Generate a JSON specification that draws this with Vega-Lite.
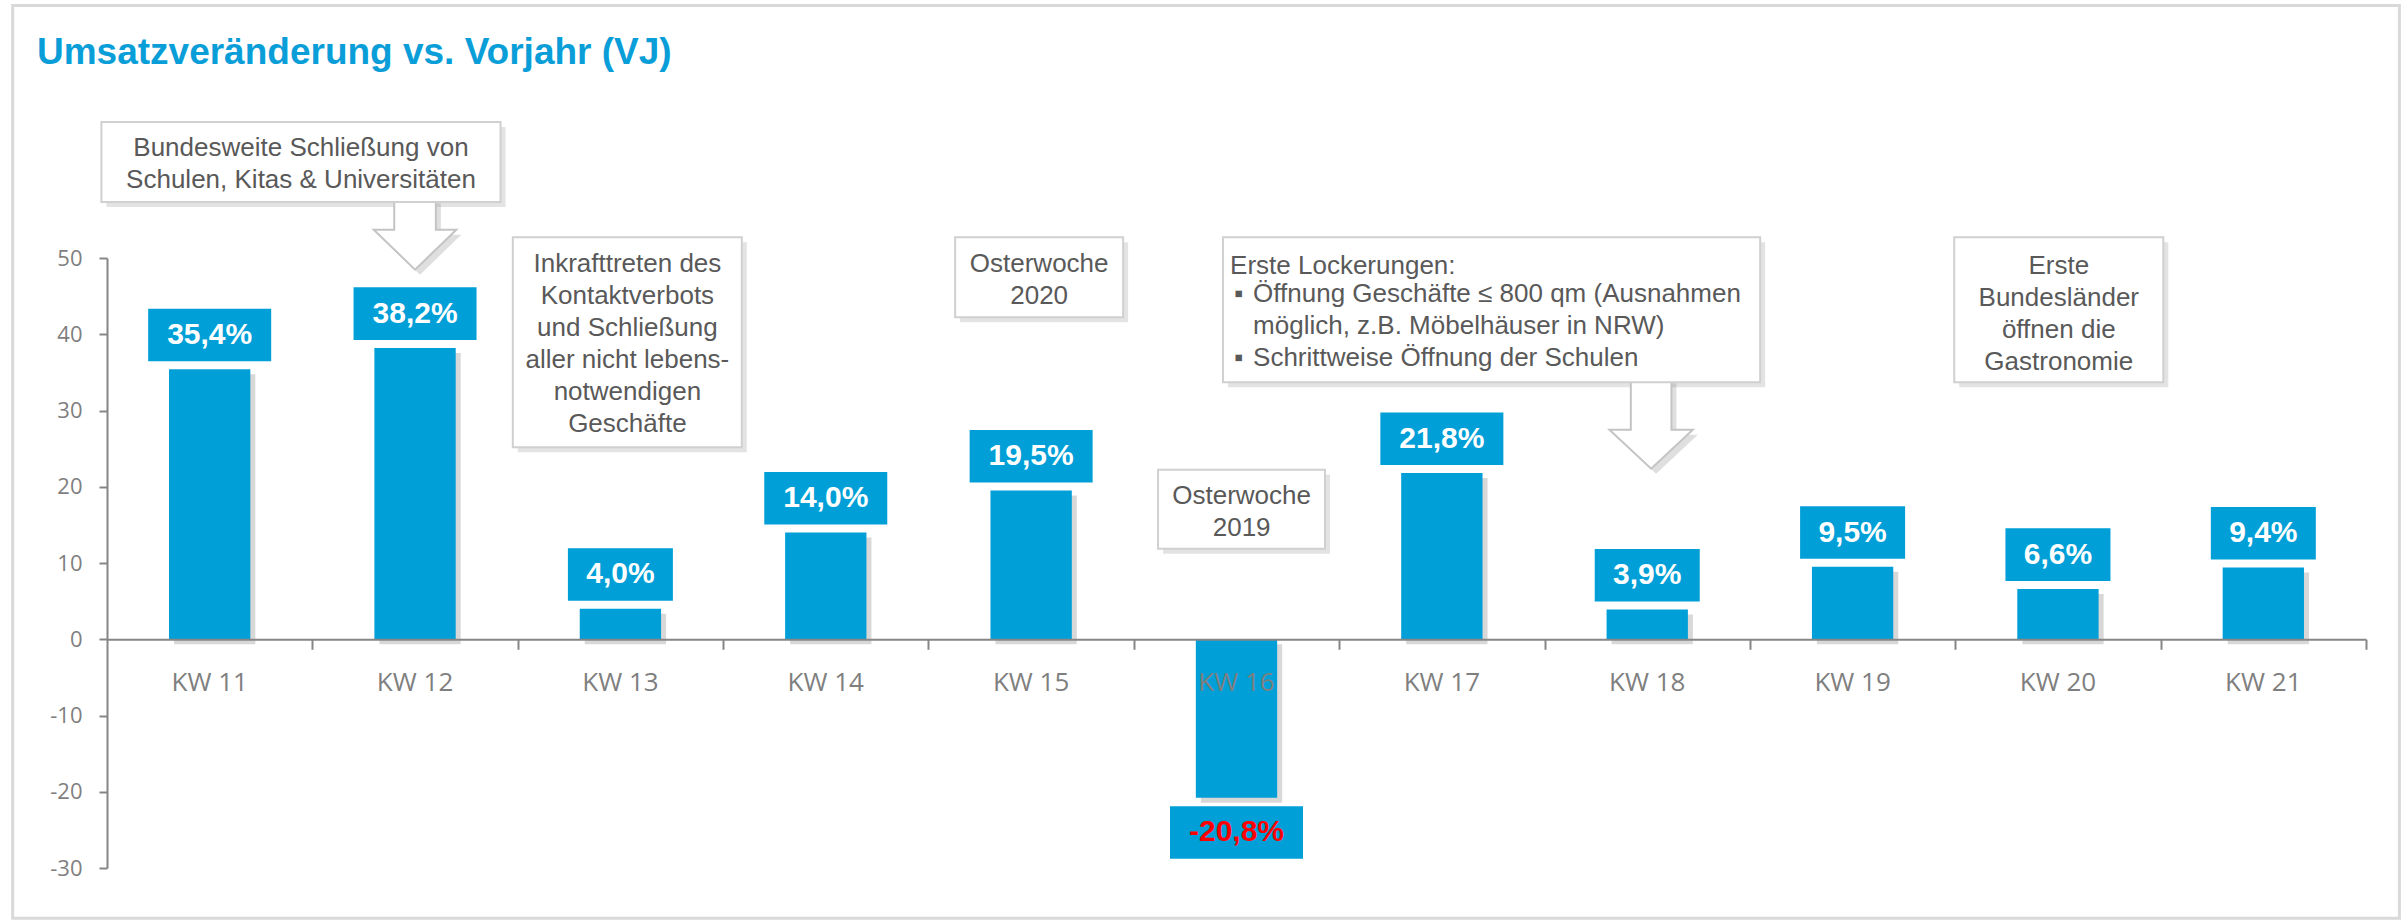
{
  "$schema": "https://vega.github.io/schema/vega-lite/v6.json",
  "width": 2259,
  "height": 610,
  "autosize": {"type": "none"},
  "padding": {"left": 107, "top": 258, "right": 41, "bottom": 52},
  "background": "white",
  "config": {
    "view": {"stroke": null},
    "font": "Liberation Sans",
    "locale": {"number": {"decimal": ",", "thousands": ".", "grouping": [3], "currency": ["", " €"], "minus": "-"}}
  },
  "datasets": {
    "bars": [
      {"kw": "KW 11", "v": 35.4, "label": "35,4%"},
      {"kw": "KW 12", "v": 38.2, "label": "38,2%"},
      {"kw": "KW 13", "v": 4.0, "label": "4,0%"},
      {"kw": "KW 14", "v": 14.0, "label": "14,0%"},
      {"kw": "KW 15", "v": 19.5, "label": "19,5%"},
      {"kw": "KW 16", "v": -20.8, "label": "-20,8%"},
      {"kw": "KW 17", "v": 21.8, "label": "21,8%"},
      {"kw": "KW 18", "v": 3.9, "label": "3,9%"},
      {"kw": "KW 19", "v": 9.5, "label": "9,5%"},
      {"kw": "KW 20", "v": 6.6, "label": "6,6%"},
      {"kw": "KW 21", "v": 9.4, "label": "9,4%"}
    ],
    "boxes": [
      {"u1": -0.0273, "u2": 1.9162, "v1": 67.83, "v2": 57.34},
      {"u1": 1.976, "u2": 3.091, "v1": 52.71, "v2": 25.17},
      {"u1": 4.130, "u2": 4.948, "v1": 52.71, "v2": 42.22},
      {"u1": 5.118, "u2": 5.931, "v1": 22.24, "v2": 11.88},
      {"u1": 5.434, "u2": 8.050, "v1": 52.71, "v2": 33.69},
      {"u1": 8.995, "u2": 10.013, "v1": 52.71, "v2": 33.69}
    ],
    "notes": [
      {"u": 0.9445, "v": 63.33, "lines": ["Bundesweite Schließung von", "Schulen, Kitas & Universitäten"]},
      {"u": 2.534, "v": 48.17, "lines": ["Inkrafttreten des", "Kontaktverbots", "und Schließung", "aller nicht lebens-", "notwendigen", "Geschäfte"]},
      {"u": 4.539, "v": 48.18, "lines": ["Osterwoche", "2020"]},
      {"u": 5.525, "v": 17.78, "lines": ["Osterwoche", "2019"]},
      {"u": 9.504, "v": 47.93, "lines": ["Erste", "Bundesländer", "öffnen die", "Gastronomie"]}
    ],
    "leftlines": [
      {"u": 5.4686, "v": 47.88, "t": "Erste Lockerungen:"},
      {"u": 5.488, "v": 44.2, "t": "▪"},
      {"u": 5.5806, "v": 44.2, "t": "Öffnung Geschäfte ≤ 800 qm (Ausnahmen"},
      {"u": 5.5806, "v": 40.01, "t": "möglich, z.B. Möbelhäuser in NRW)"},
      {"u": 5.488, "v": 35.83, "t": "▪"},
      {"u": 5.5806, "v": 35.83, "t": "Schrittweise Öffnung der Schulen"}
    ],
    "one": [{}]
  },
  "layer": [
    {
      "resolve": {"axis": {"x": "independent", "y": "independent"}},
      "layer": [
        {
          "data": {"name": "one"},
          "mark": {"type": "rect", "fill": "transparent", "stroke": "#d9d9d9", "strokeWidth": 3},
          "encoding": {
            "x": {"datum": -0.4593, "type": "quantitative", "scale": {"domain": [0, 11], "nice": false, "zero": false},
                  "axis": {"values": [1, 2, 3, 4, 5, 6, 7, 8, 9, 10, 11], "orient": "bottom", "offset": -228.75,
                           "domain": false, "labels": false, "grid": false, "title": null,
                           "ticks": true, "tickSize": 10, "tickWidth": 2, "tickColor": "#868686", "zindex": 2}},
            "x2": {"datum": 11.1627},
            "y": {"datum": 83.13, "type": "quantitative", "scale": {"domain": [-30, 50], "nice": false, "zero": false}, "axis": null},
            "y2": {"datum": -36.6}
          }
        },
        {
          "data": {"name": "one"},
          "mark": {"type": "text", "align": "left", "baseline": "alphabetic", "font": "Liberation Sans", "fontWeight": "bold", "fontSize": 37, "fill": "#0a9ed9"},
          "encoding": {
            "x": {"datum": -0.341, "type": "quantitative", "scale": {"domain": [0, 11], "nice": false, "zero": false}, "axis": null},
            "y": {"datum": 75.49, "type": "quantitative", "scale": {"domain": [-30, 50], "nice": false, "zero": false}, "axis": null},
            "text": {"value": "Umsatzveränderung vs. Vorjahr (VJ)"}
          }
        },
        {
          "data": {"name": "boxes"},
          "mark": {"type": "rect", "fill": "#7f7f7f", "opacity": 0.22, "xOffset": 5, "x2Offset": 5, "yOffset": 5, "y2Offset": 5},
          "encoding": {
            "x": {"field": "u1", "type": "quantitative", "scale": {"domain": [0, 11], "nice": false, "zero": false}, "axis": null},
            "x2": {"field": "u2"},
            "y": {"field": "v1", "type": "quantitative", "scale": {"domain": [-30, 50], "nice": false, "zero": false}, "axis": null},
            "y2": {"field": "v2"}
          }
        },
        {
          "data": {"name": "one"},
          "mark": {"type": "point", "filled": true, "opacity": 0.25, "fill": "#7f7f7f", "strokeWidth": 0, "size": 6823, "xOffset": 5, "yOffset": 5,
                   "shape": "M-0.504,-0.87L0.504,-0.87L0.504,-0.114L1,-0.114L0,0.855L-1,-0.114L-0.504,-0.114Z"},
          "encoding": {
            "x": {"datum": 1.5, "type": "quantitative", "scale": {"domain": [0, 11], "nice": false, "zero": false}, "axis": null},
            "y": {"datum": 53.1, "type": "quantitative", "scale": {"domain": [-30, 50], "nice": false, "zero": false}, "axis": null}
          }
        },
        {
          "data": {"name": "one"},
          "mark": {"type": "point", "filled": true, "opacity": 0.25, "fill": "#7f7f7f", "strokeWidth": 0, "size": 6956, "xOffset": 5, "yOffset": 5,
                   "shape": "M-0.487,-1.13L0.487,-1.13L0.487,0.103L1,0.103L0,1.038L-1,0.103L-0.487,0.103Z"},
          "encoding": {
            "x": {"datum": 7.519, "type": "quantitative", "scale": {"domain": [0, 11], "nice": false, "zero": false}, "axis": null},
            "y": {"datum": 28.05, "type": "quantitative", "scale": {"domain": [-30, 50], "nice": false, "zero": false}, "axis": null}
          }
        },
        {
          "data": {"name": "one"},
          "mark": {"type": "point", "filled": true, "opacity": 1, "fill": "white", "stroke": "#c4c4c4", "strokeWidth": 2, "size": 6823,
                   "shape": "M-0.504,-0.87L0.504,-0.87L0.504,-0.114L1,-0.114L0,0.855L-1,-0.114L-0.504,-0.114Z"},
          "encoding": {
            "x": {"datum": 1.5, "type": "quantitative", "scale": {"domain": [0, 11], "nice": false, "zero": false}, "axis": null},
            "y": {"datum": 53.1, "type": "quantitative", "scale": {"domain": [-30, 50], "nice": false, "zero": false}, "axis": null}
          }
        },
        {
          "data": {"name": "one"},
          "mark": {"type": "point", "filled": true, "opacity": 1, "fill": "white", "stroke": "#c4c4c4", "strokeWidth": 2, "size": 6956,
                   "shape": "M-0.487,-1.13L0.487,-1.13L0.487,0.103L1,0.103L0,1.038L-1,0.103L-0.487,0.103Z"},
          "encoding": {
            "x": {"datum": 7.519, "type": "quantitative", "scale": {"domain": [0, 11], "nice": false, "zero": false}, "axis": null},
            "y": {"datum": 28.05, "type": "quantitative", "scale": {"domain": [-30, 50], "nice": false, "zero": false}, "axis": null}
          }
        },
        {
          "data": {"name": "boxes"},
          "mark": {"type": "rect", "fill": "white", "stroke": "#d0d0d0", "strokeWidth": 2},
          "encoding": {
            "x": {"field": "u1", "type": "quantitative", "scale": {"domain": [0, 11], "nice": false, "zero": false}, "axis": null},
            "x2": {"field": "u2"},
            "y": {"field": "v1", "type": "quantitative", "scale": {"domain": [-30, 50], "nice": false, "zero": false}, "axis": null},
            "y2": {"field": "v2"}
          }
        },
        {
          "data": {"name": "notes"},
          "mark": {"type": "text", "align": "center", "baseline": "alphabetic", "font": "Liberation Sans", "fontSize": 26, "lineHeight": 32, "fill": "#595959"},
          "encoding": {
            "x": {"field": "u", "type": "quantitative", "scale": {"domain": [0, 11], "nice": false, "zero": false}, "axis": null},
            "y": {"field": "v", "type": "quantitative", "scale": {"domain": [-30, 50], "nice": false, "zero": false}, "axis": null},
            "text": {"field": "lines"}
          }
        },
        {
          "data": {"name": "leftlines"},
          "mark": {"type": "text", "align": "left", "baseline": "alphabetic", "font": "Liberation Sans", "fontSize": 26, "fill": "#595959"},
          "encoding": {
            "x": {"field": "u", "type": "quantitative", "scale": {"domain": [0, 11], "nice": false, "zero": false}, "axis": null},
            "y": {"field": "v", "type": "quantitative", "scale": {"domain": [-30, 50], "nice": false, "zero": false}, "axis": null},
            "text": {"field": "t"}
          }
        }
      ]
    },
    {
      "data": {"name": "bars"},
      "layer": [
        {
          "mark": {"type": "bar", "fill": "#7f7f7f", "opacity": 0.3, "xOffset": 5, "yOffset": 5, "y2Offset": 5},
          "encoding": {
            "x": {"field": "kw", "type": "nominal", "sort": null, "title": null,
                  "scale": {"paddingInner": 0.604, "paddingOuter": 0.302},
                  "axis": {
                    "orient": "bottom", "offset": -228.75, "domainColor": "#868686", "domainWidth": 2,
                    "ticks": false,
                    "labelFont": "Open Sans", "labelFontSize": 26, "labelColor": "#7f7f7f", "labelPadding": 30,
                    "labelAngle": 0, "zindex": 2, "grid": false
                  }},
            "y": {"field": "v", "type": "quantitative", "title": null,
                  "scale": {"domain": [-30, 50], "nice": false, "zero": false},
                  "axis": {
                    "values": [-30, -20, -10, 0, 10, 20, 30, 40, 50],
                    "domainColor": "#868686", "domainWidth": 2, "ticks": true, "tickColor": "#868686", "tickWidth": 2, "tickSize": 8,
                    "labelFont": "Open Sans", "labelFontSize": 22, "labelColor": "#7f7f7f", "labelPadding": 17, "grid": false
                  }}
          }
        },
        {
          "mark": {"type": "bar", "fill": "#009fd7"},
          "encoding": {
            "x": {"field": "kw", "type": "nominal", "sort": null, "title": null},
            "y": {"field": "v", "type": "quantitative", "title": null}
          }
        },
        {
          "transform": [{"filter": "datum.v >= 0"}],
          "mark": {"type": "point", "filled": true, "opacity": 1, "fill": "#009fd7", "strokeWidth": 0, "size": 10000, "yOffset": -34.3},
          "encoding": {
            "x": {"field": "kw", "type": "nominal", "sort": null, "title": null},
            "y": {"field": "v", "type": "quantitative", "title": null},
            "shape": {
              "condition": {"test": "datum.v < 10", "value": "M-1.05,-0.526H1.05V0.526H-1.05Z"},
              "value": "M-1.23,-0.526H1.23V0.526H-1.23Z"
            }
          }
        },
        {
          "transform": [{"filter": "datum.v >= 0"}],
          "mark": {"type": "text", "align": "center", "baseline": "middle", "font": "Liberation Sans", "fontWeight": "bold", "fontSize": 30, "fill": "white", "yOffset": -34.3},
          "encoding": {
            "x": {"field": "kw", "type": "nominal", "sort": null, "title": null},
            "y": {"field": "v", "type": "quantitative", "title": null},
            "text": {"field": "label"}
          }
        },
        {
          "transform": [{"filter": "datum.v < 0"}],
          "mark": {"type": "point", "filled": true, "opacity": 1, "fill": "#009fd7", "strokeWidth": 0, "size": 10000, "yOffset": 34.6,
                   "shape": "M-1.33,-0.526H1.33V0.526H-1.33Z"},
          "encoding": {
            "x": {"field": "kw", "type": "nominal", "sort": null, "title": null},
            "y": {"field": "v", "type": "quantitative", "title": null}
          }
        },
        {
          "transform": [{"filter": "datum.v < 0"}],
          "mark": {"type": "text", "align": "center", "baseline": "middle", "font": "Liberation Sans", "fontWeight": "bold", "fontSize": 30, "fill": "#ff0000", "yOffset": 34.6},
          "encoding": {
            "x": {"field": "kw", "type": "nominal", "sort": null, "title": null},
            "y": {"field": "v", "type": "quantitative", "title": null},
            "text": {"field": "label"}
          }
        }
      ]
    }
  ],
  "resolve": {"scale": {"x": "independent"}, "axis": {"x": "independent", "y": "independent"}}
}
